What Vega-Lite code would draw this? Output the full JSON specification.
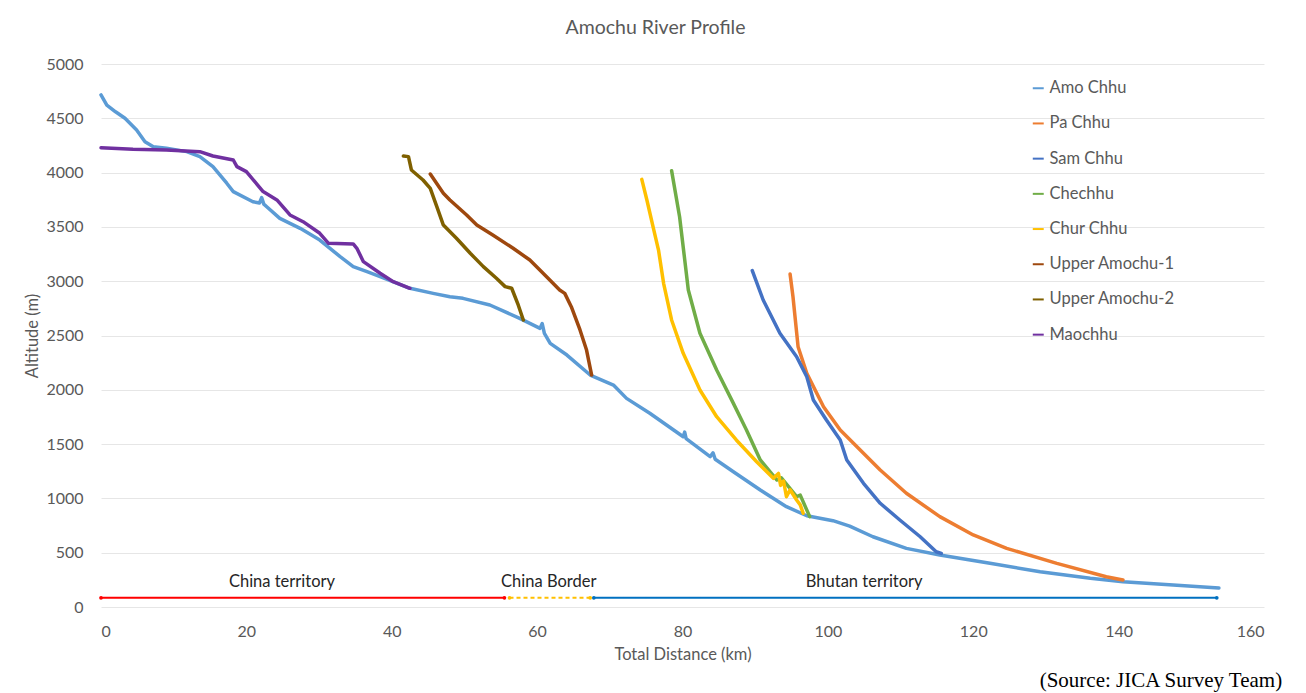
{
  "$schema": "https://vega.github.io/schema/vega-lite/v6.json",
  "width": 1163,
  "height": 543,
  "autosize": {"type": "none"},
  "padding": {"left": 101, "top": 64, "right": 42, "bottom": 86},
  "background": "white",
  "title": {"text": "Amochu River Profile", "fontSize": 19.5, "font": "Lato", "fontWeight": "normal", "color": "#595959", "anchor": "middle", "dx": -27, "offset": 18},
  "config": {
    "view": {"stroke": null},
    "axis": {"labelFont": "Lato", "titleFont": "Lato", "labelColor": "#595959", "titleColor": "#595959", "labelFontSize": 16, "titleFontSize": 16.5, "titleFontWeight": "normal", "domain": false, "ticks": false, "gridColor": "#E6E6E6", "gridWidth": 1}
  },
  "datasets": {
    "rivers": [
      {"river": "Amo Chhu", "km": 0, "alt": 4715}, {"river": "Amo Chhu", "km": 0.8, "alt": 4622}, {"river": "Amo Chhu", "km": 2.0, "alt": 4560}, {"river": "Amo Chhu", "km": 3.3, "alt": 4500}, {"river": "Amo Chhu", "km": 4.9, "alt": 4392}, {"river": "Amo Chhu", "km": 6.05, "alt": 4285}, {"river": "Amo Chhu", "km": 7.2, "alt": 4239}, {"river": "Amo Chhu", "km": 9.0, "alt": 4224}, {"river": "Amo Chhu", "km": 11.8, "alt": 4193}, {"river": "Amo Chhu", "km": 13.6, "alt": 4147}, {"river": "Amo Chhu", "km": 15.4, "alt": 4055}, {"river": "Amo Chhu", "km": 17.3, "alt": 3902}, {"river": "Amo Chhu", "km": 18.2, "alt": 3825}, {"river": "Amo Chhu", "km": 20.9, "alt": 3732}, {"river": "Amo Chhu", "km": 21.8, "alt": 3720}, {"river": "Amo Chhu", "km": 22.1, "alt": 3770}, {"river": "Amo Chhu", "km": 22.4, "alt": 3710}, {"river": "Amo Chhu", "km": 22.8, "alt": 3686}, {"river": "Amo Chhu", "km": 24.6, "alt": 3579}, {"river": "Amo Chhu", "km": 27.4, "alt": 3487}, {"river": "Amo Chhu", "km": 30.1, "alt": 3379}, {"river": "Amo Chhu", "km": 32.9, "alt": 3226}, {"river": "Amo Chhu", "km": 34.7, "alt": 3134}, {"river": "Amo Chhu", "km": 36.6, "alt": 3088}, {"river": "Amo Chhu", "km": 38.4, "alt": 3042}, {"river": "Amo Chhu", "km": 42.5, "alt": 2935}, {"river": "Amo Chhu", "km": 45.7, "alt": 2888}, {"river": "Amo Chhu", "km": 48.0, "alt": 2857}, {"river": "Amo Chhu", "km": 49.8, "alt": 2842}, {"river": "Amo Chhu", "km": 53.5, "alt": 2781}, {"river": "Amo Chhu", "km": 57.6, "alt": 2658}, {"river": "Amo Chhu", "km": 60.4, "alt": 2566}, {"river": "Amo Chhu", "km": 60.7, "alt": 2610}, {"river": "Amo Chhu", "km": 61.0, "alt": 2520}, {"river": "Amo Chhu", "km": 61.8, "alt": 2428}, {"river": "Amo Chhu", "km": 64.1, "alt": 2320}, {"river": "Amo Chhu", "km": 67.3, "alt": 2136}, {"river": "Amo Chhu", "km": 70.5, "alt": 2044}, {"river": "Amo Chhu", "km": 72.3, "alt": 1921}, {"river": "Amo Chhu", "km": 75.5, "alt": 1784}, {"river": "Amo Chhu", "km": 80.1, "alt": 1568}, {"river": "Amo Chhu", "km": 80.3, "alt": 1610}, {"river": "Amo Chhu", "km": 80.5, "alt": 1550}, {"river": "Amo Chhu", "km": 83.8, "alt": 1384}, {"river": "Amo Chhu", "km": 84.2, "alt": 1420}, {"river": "Amo Chhu", "km": 84.5, "alt": 1360}, {"river": "Amo Chhu", "km": 87.0, "alt": 1246}, {"river": "Amo Chhu", "km": 90.7, "alt": 1077}, {"river": "Amo Chhu", "km": 94.3, "alt": 924}, {"river": "Amo Chhu", "km": 97.1, "alt": 840}, {"river": "Amo Chhu", "km": 100.7, "alt": 795}, {"river": "Amo Chhu", "km": 103.0, "alt": 745}, {"river": "Amo Chhu", "km": 106.2, "alt": 647}, {"river": "Amo Chhu", "km": 110.8, "alt": 540}, {"river": "Amo Chhu", "km": 115.4, "alt": 479}, {"river": "Amo Chhu", "km": 122.3, "alt": 402}, {"river": "Amo Chhu", "km": 129.2, "alt": 325}, {"river": "Amo Chhu", "km": 136.1, "alt": 264}, {"river": "Amo Chhu", "km": 140.6, "alt": 233}, {"river": "Amo Chhu", "km": 147.5, "alt": 203}, {"river": "Amo Chhu", "km": 153.8, "alt": 175},
      {"river": "Pa Chhu", "km": 94.8, "alt": 3066}, {"river": "Pa Chhu", "km": 95.2, "alt": 2857}, {"river": "Pa Chhu", "km": 95.9, "alt": 2397}, {"river": "Pa Chhu", "km": 97.1, "alt": 2151}, {"river": "Pa Chhu", "km": 99.4, "alt": 1844}, {"river": "Pa Chhu", "km": 101.7, "alt": 1630}, {"river": "Pa Chhu", "km": 104.0, "alt": 1476}, {"river": "Pa Chhu", "km": 107.2, "alt": 1262}, {"river": "Pa Chhu", "km": 110.8, "alt": 1047}, {"river": "Pa Chhu", "km": 115.4, "alt": 832}, {"river": "Pa Chhu", "km": 120.0, "alt": 663}, {"river": "Pa Chhu", "km": 124.6, "alt": 540}, {"river": "Pa Chhu", "km": 131.5, "alt": 402}, {"river": "Pa Chhu", "km": 138.3, "alt": 279}, {"river": "Pa Chhu", "km": 140.6, "alt": 249},
      {"river": "Sam Chhu", "km": 89.6, "alt": 3097}, {"river": "Sam Chhu", "km": 91.1, "alt": 2827}, {"river": "Sam Chhu", "km": 93.4, "alt": 2520}, {"river": "Sam Chhu", "km": 95.7, "alt": 2305}, {"river": "Sam Chhu", "km": 97.1, "alt": 2121}, {"river": "Sam Chhu", "km": 98.0, "alt": 1906}, {"river": "Sam Chhu", "km": 99.8, "alt": 1722}, {"river": "Sam Chhu", "km": 101.7, "alt": 1538}, {"river": "Sam Chhu", "km": 102.6, "alt": 1354}, {"river": "Sam Chhu", "km": 104.9, "alt": 1139}, {"river": "Sam Chhu", "km": 107.2, "alt": 955}, {"river": "Sam Chhu", "km": 109.9, "alt": 801}, {"river": "Sam Chhu", "km": 112.7, "alt": 647}, {"river": "Sam Chhu", "km": 114.9, "alt": 509}, {"river": "Sam Chhu", "km": 115.6, "alt": 494},
      {"river": "Chechhu", "km": 78.5, "alt": 4018}, {"river": "Chechhu", "km": 79.6, "alt": 3594}, {"river": "Chechhu", "km": 80.8, "alt": 2919}, {"river": "Chechhu", "km": 82.4, "alt": 2520}, {"river": "Chechhu", "km": 84.7, "alt": 2182}, {"river": "Chechhu", "km": 87.0, "alt": 1875}, {"river": "Chechhu", "km": 88.8, "alt": 1630}, {"river": "Chechhu", "km": 90.7, "alt": 1354}, {"river": "Chechhu", "km": 93.0, "alt": 1169}, {"river": "Chechhu", "km": 93.6, "alt": 1190}, {"river": "Chechhu", "km": 95.7, "alt": 1016}, {"river": "Chechhu", "km": 96.2, "alt": 1030}, {"river": "Chechhu", "km": 97.5, "alt": 832},
      {"river": "Chur Chhu", "km": 74.4, "alt": 3938}, {"river": "Chur Chhu", "km": 75.1, "alt": 3748}, {"river": "Chur Chhu", "km": 76.0, "alt": 3487}, {"river": "Chur Chhu", "km": 76.7, "alt": 3287}, {"river": "Chur Chhu", "km": 77.4, "alt": 2981}, {"river": "Chur Chhu", "km": 78.5, "alt": 2643}, {"river": "Chur Chhu", "km": 80.1, "alt": 2336}, {"river": "Chur Chhu", "km": 82.4, "alt": 1998}, {"river": "Chur Chhu", "km": 84.7, "alt": 1752}, {"river": "Chur Chhu", "km": 87.4, "alt": 1538}, {"river": "Chur Chhu", "km": 90.2, "alt": 1338}, {"river": "Chur Chhu", "km": 92.5, "alt": 1185}, {"river": "Chur Chhu", "km": 93.2, "alt": 1230}, {"river": "Chur Chhu", "km": 93.5, "alt": 1120}, {"river": "Chur Chhu", "km": 93.9, "alt": 1160}, {"river": "Chur Chhu", "km": 94.3, "alt": 1016}, {"river": "Chur Chhu", "km": 94.8, "alt": 1080}, {"river": "Chur Chhu", "km": 95.7, "alt": 985}, {"river": "Chur Chhu", "km": 96.2, "alt": 940}, {"river": "Chur Chhu", "km": 96.6, "alt": 863},
      {"river": "Upper Amochu-1", "km": 45.3, "alt": 3987}, {"river": "Upper Amochu-1", "km": 47.1, "alt": 3809}, {"river": "Upper Amochu-1", "km": 48.0, "alt": 3748}, {"river": "Upper Amochu-1", "km": 50.3, "alt": 3610}, {"river": "Upper Amochu-1", "km": 51.7, "alt": 3517}, {"river": "Upper Amochu-1", "km": 53.9, "alt": 3425}, {"river": "Upper Amochu-1", "km": 56.7, "alt": 3303}, {"river": "Upper Amochu-1", "km": 59.0, "alt": 3195}, {"river": "Upper Amochu-1", "km": 61.3, "alt": 3042}, {"river": "Upper Amochu-1", "km": 63.1, "alt": 2919}, {"river": "Upper Amochu-1", "km": 63.8, "alt": 2888}, {"river": "Upper Amochu-1", "km": 64.7, "alt": 2765}, {"river": "Upper Amochu-1", "km": 65.9, "alt": 2551}, {"river": "Upper Amochu-1", "km": 66.8, "alt": 2366}, {"river": "Upper Amochu-1", "km": 67.5, "alt": 2136},
      {"river": "Upper Amochu-2", "km": 41.6, "alt": 4153}, {"river": "Upper Amochu-2", "km": 42.3, "alt": 4147}, {"river": "Upper Amochu-2", "km": 42.7, "alt": 4024}, {"river": "Upper Amochu-2", "km": 44.3, "alt": 3932}, {"river": "Upper Amochu-2", "km": 45.3, "alt": 3855}, {"river": "Upper Amochu-2", "km": 46.2, "alt": 3686}, {"river": "Upper Amochu-2", "km": 47.1, "alt": 3517}, {"river": "Upper Amochu-2", "km": 48.9, "alt": 3395}, {"river": "Upper Amochu-2", "km": 50.8, "alt": 3257}, {"river": "Upper Amochu-2", "km": 52.6, "alt": 3134}, {"river": "Upper Amochu-2", "km": 54.4, "alt": 3027}, {"river": "Upper Amochu-2", "km": 55.6, "alt": 2950}, {"river": "Upper Amochu-2", "km": 56.5, "alt": 2935}, {"river": "Upper Amochu-2", "km": 57.4, "alt": 2781}, {"river": "Upper Amochu-2", "km": 58.1, "alt": 2643},
      {"river": "Maochhu", "km": 0, "alt": 4229}, {"river": "Maochhu", "km": 4.4, "alt": 4214}, {"river": "Maochhu", "km": 9.0, "alt": 4208}, {"river": "Maochhu", "km": 13.6, "alt": 4193}, {"river": "Maochhu", "km": 15.4, "alt": 4153}, {"river": "Maochhu", "km": 18.2, "alt": 4116}, {"river": "Maochhu", "km": 18.7, "alt": 4055}, {"river": "Maochhu", "km": 20.0, "alt": 4009}, {"river": "Maochhu", "km": 22.3, "alt": 3825}, {"river": "Maochhu", "km": 24.2, "alt": 3748}, {"river": "Maochhu", "km": 26.0, "alt": 3610}, {"river": "Maochhu", "km": 27.8, "alt": 3548}, {"river": "Maochhu", "km": 30.1, "alt": 3441}, {"river": "Maochhu", "km": 31.3, "alt": 3349}, {"river": "Maochhu", "km": 34.7, "alt": 3343}, {"river": "Maochhu", "km": 35.2, "alt": 3303}, {"river": "Maochhu", "km": 36.1, "alt": 3180}, {"river": "Maochhu", "km": 38.4, "alt": 3073}, {"river": "Maochhu", "km": 40.2, "alt": 2995}, {"river": "Maochhu", "km": 42.5, "alt": 2935}
    ],
    "zones": [
      {"zone": "China territory", "start": 0, "end": 55.5, "mid": 24.9},
      {"zone": "China Border", "start": 56.2, "end": 67.3, "mid": 61.6},
      {"zone": "Bhutan territory", "start": 67.8, "end": 153.5, "mid": 105}
    ]
  },
  "layer": [
    {
      "data": {"name": "rivers"},
      "mark": {"type": "line", "strokeWidth": 3.5, "strokeJoin": "round", "strokeCap": "round"},
      "encoding": {
        "x": {"field": "km", "type": "quantitative", "scale": {"domain": [0, 160], "nice": false}, "axis": {"values": [0, 20, 40, 60, 80, 100, 120, 140, 160], "format": "d", "grid": false, "labelPadding": 16, "title": "Total Distance (km)", "titlePadding": 7}},
        "y": {"field": "alt", "type": "quantitative", "scale": {"domain": [0, 5000], "nice": false}, "axis": {"values": [0, 500, 1000, 1500, 2000, 2500, 3000, 3500, 4000, 4500, 5000], "format": "d", "labelPadding": 18, "title": "Altitude (m)", "titlePadding": 5}},
        "color": {
          "field": "river", "type": "nominal",
          "scale": {"domain": ["Amo Chhu", "Pa Chhu", "Sam Chhu", "Chechhu", "Chur Chhu", "Upper Amochu-1", "Upper Amochu-2", "Maochhu"], "range": ["#5B9BD5", "#ED7D31", "#4472C4", "#70AD47", "#FFC000", "#9E480E", "#7F6000", "#7030A0"]},
          "legend": {"orient": "none", "legendX": 929, "legendY": 16, "title": null, "symbolType": "stroke", "symbolStrokeWidth": 2, "symbolSize": 120, "labelFont": "Lato", "labelFontSize": 16.5, "labelColor": "#595959", "rowPadding": 18.2, "labelOffset": 3}
        },
        "detail": {"field": "river"}
      }
    },
    {
      "data": {"name": "zones"},
      "mark": {"type": "rule", "strokeWidth": 2},
      "encoding": {
        "x": {"field": "start", "type": "quantitative"},
        "x2": {"field": "end"},
        "y": {"datum": 85},
        "color": {"field": "zone", "type": "nominal", "scale": {"domain": ["China territory", "China Border", "Bhutan territory"], "range": ["#FF0000", "#FFC000", "#0070C0"]}, "legend": null},
        "strokeDash": {"field": "zone", "type": "nominal", "scale": {"domain": ["China territory", "China Border", "Bhutan territory"], "range": [[1, 0], [4, 3], [1, 0]]}, "legend": null}
      }
    },
    {
      "data": {"name": "zones"},
      "mark": {"type": "point", "filled": true, "size": 14, "opacity": 1},
      "encoding": {
        "x": {"field": "start", "type": "quantitative"},
        "y": {"datum": 85},
        "color": {"field": "zone", "type": "nominal", "scale": {"domain": ["China territory", "China Border", "Bhutan territory"], "range": ["#FF0000", "#FFC000", "#0070C0"]}, "legend": null}
      }
    },
    {
      "data": {"name": "zones"},
      "mark": {"type": "point", "filled": true, "size": 14, "opacity": 1},
      "encoding": {
        "x": {"field": "end", "type": "quantitative"},
        "y": {"datum": 85},
        "color": {"field": "zone", "type": "nominal", "scale": {"domain": ["China territory", "China Border", "Bhutan territory"], "range": ["#FF0000", "#FFC000", "#0070C0"]}, "legend": null}
      }
    },
    {
      "data": {"name": "zones"},
      "mark": {"type": "text", "font": "Lato", "fontSize": 16.5, "color": "#262626", "baseline": "middle"},
      "encoding": {
        "x": {"field": "mid", "type": "quantitative"},
        "y": {"datum": 230},
        "text": {"field": "zone"}
      }
    },
    {
      "data": {"values": [{"note": "(Source: JICA Survey Team)"}]},
      "mark": {"type": "text", "font": "Liberation Serif", "fontSize": 21, "color": "#000000", "align": "right", "baseline": "alphabetic"},
      "encoding": {
        "x": {"datum": 162.5},
        "y": {"datum": -740},
        "text": {"field": "note"}
      }
    }
  ],
  "resolve": {"scale": {"color": "independent", "strokeDash": "independent"}, "legend": {"color": "independent"}}
}
